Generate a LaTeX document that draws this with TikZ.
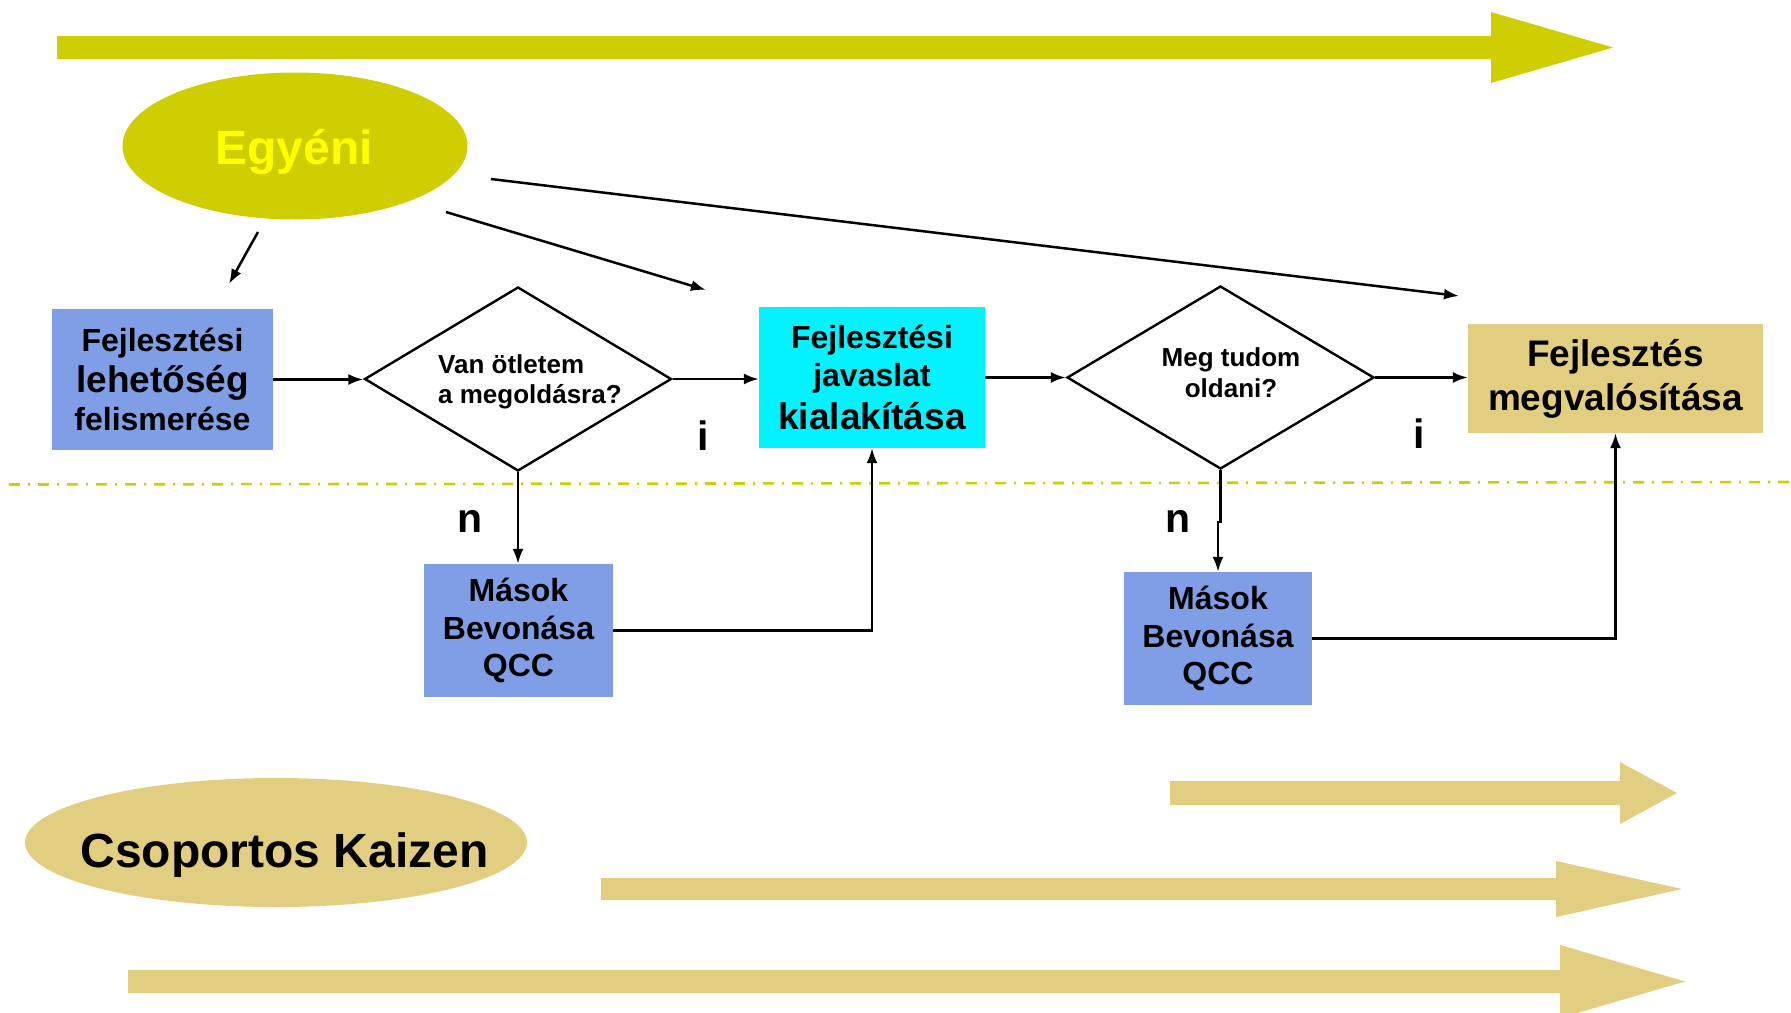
\documentclass[tikz,border=0pt]{standalone}
\usepackage{fontspec}
\setmainfont{Liberation Sans}
\usetikzlibrary{shapes.geometric,arrows.meta}
\definecolor{olive}{RGB}{207,206,0}
\definecolor{brightyellow}{RGB}{255,255,0}
\definecolor{boxblue}{RGB}{128,158,230}
\definecolor{boxcyan}{RGB}{4,242,254}
\definecolor{khaki}{RGB}{226,206,128}
\newcommand{\fs}[2]{\fontsize{#1}{#2}\selectfont}
\tikzset{
  box/.style={rectangle, inner sep=0pt, align=center, font=\bfseries\fs{32}{38}},
  decision/.style={diamond, draw, line width=2.4pt, inner sep=0pt, fill=white},
  conn/.style={line width=2.5pt, -{Latex[length=15pt,width=11pt]}},
  flowlabel/.style={font=\bfseries\fs{41}{41}, inner sep=0pt, anchor=base},
  phase/.style={ellipse, inner sep=0pt, font=\bfseries\fs{48}{48}},
  divider/.style={olive, line width=2.6pt, dash pattern=on 11pt off 8pt on 2pt off 8pt}
}
\begin{document}
\begin{tikzpicture}[x=1pt,y=-1pt]
\useasboundingbox (0,0) rectangle (1791,1012);
\clip (0,0) rectangle (1791,1012);

% wide process arrows
\fill[olive] (57,36) -- (1491,36) -- (1491,12) -- (1613,47.5) -- (1491,83) -- (1491,59) -- (57,59) -- cycle;
\fill[khaki] (1170,781) -- (1620,781) -- (1620,762) -- (1677,793) -- (1620,824) -- (1620,805) -- (1170,805) -- cycle;
\fill[khaki] (601,878) -- (1556,878) -- (1556,861) -- (1682,889) -- (1556,917) -- (1556,900) -- (601,900) -- cycle;
\fill[khaki] (128,970) -- (1560,970) -- (1560,945) -- (1685,981.5) -- (1560,1018) -- (1560,993) -- (128,993) -- cycle;

% phase ellipses
\node[phase, fill=olive, text=brightyellow, minimum width=345pt, minimum height=147pt,
      text height=36pt, text depth=0pt] (egyeni) at (295,146) {\makebox[0pt]{\hspace*{-2pt}Egyéni}};
\node[phase, fill=khaki, minimum width=502pt, minimum height=129pt,
      text height=49pt, text depth=0pt] (csoport) at (276,842.5) {\makebox[0pt]{\hspace*{17pt}Csoportos Kaizen}};

% dividing line
\coordinate (divL) at (9,484.5);
\coordinate (divR) at (1791,482);
\draw[divider] (divL) -- (divR);

% flow nodes
\node[box, fill=boxblue, minimum width=221pt, minimum height=141pt] (felism) at (162.5,379.5)
  {Fejlesztési\\[3pt]{\fs{37}{38}lehetőség}\\felismerése};
\node[decision, minimum width=307pt, minimum height=184pt] (dontes1) at (518,379) {};
\node[inner sep=0pt, anchor=west, align=left, font=\bfseries\fs{26}{30}] (kerdes1) at (438,382)
  {Van ötletem\\a megoldásra?};
\node[box, fill=boxcyan, minimum width=226pt, minimum height=141pt] (javaslat) at (872,377.5)
  {Fejlesztési\\javaslat\\[5pt]{\fs{37}{38}kialakítása}};
\node[decision, minimum width=307pt, minimum height=183pt] (dontes2) at (1220.5,377.5) {};
\node[inner sep=0pt, align=center, font=\bfseries\fs{26}{31}] (kerdes2) at (1231,373)
  {Meg tudom\\oldani?};
\node[box, fill=khaki, minimum width=295pt, minimum height=109pt, font=\bfseries\fs{37}{44}] (megval) at (1615.5,378.5)
  {Fejlesztés\\megvalósítása};
\node[box, fill=boxblue, minimum width=189pt, minimum height=133pt, font=\bfseries\fs{32}{37.5}] (masok1) at (518.5,630.5)
  {Mások\\Bevonása\\QCC};
\node[box, fill=boxblue, minimum width=188pt, minimum height=133pt, font=\bfseries\fs{32}{37.5}] (masok2) at (1218,638.5)
  {Mások\\Bevonása\\QCC};

% yes / no labels
\node[flowlabel] (igen1) at (703.5,450) {i};
\node[flowlabel] (nem1) at (470,532) {n};
\node[flowlabel] (igen2) at (1419,448) {i};
\node[flowlabel] (nem2) at (1178,532) {n};

% flow connectors
\draw[conn] (felism.east) -- (felism.east -| dontes1.west);
\draw[conn] (dontes1.east) -- (dontes1.east -| javaslat.west);
\draw[conn] (javaslat.east) -- (javaslat.east -| dontes2.west);
\draw[conn] (dontes2.east) -- (dontes2.east -| megval.west);
\draw[conn] (dontes1.south) -- (dontes1.south |- masok1.north);
\draw[conn] (dontes2.south) -- ++(0,52) -| (masok2.north);
\draw[conn] (masok1.east) -| (javaslat.south);
\draw[conn] (masok2.east) -| (megval.south);

% individual path arrows
\coordinate (e1s) at (258,232);
\coordinate (e1e) at (229,284);
\coordinate (e2s) at (446,212);
\coordinate (e2e) at (706,290);
\coordinate (e3s) at (491,179);
\coordinate (e3e) at (1459,296);
\draw[conn] (e1s) -- (e1e);
\draw[conn] (e2s) -- (e2e);
\draw[conn] (e3s) -- (e3e);
\end{tikzpicture}
\end{document}
